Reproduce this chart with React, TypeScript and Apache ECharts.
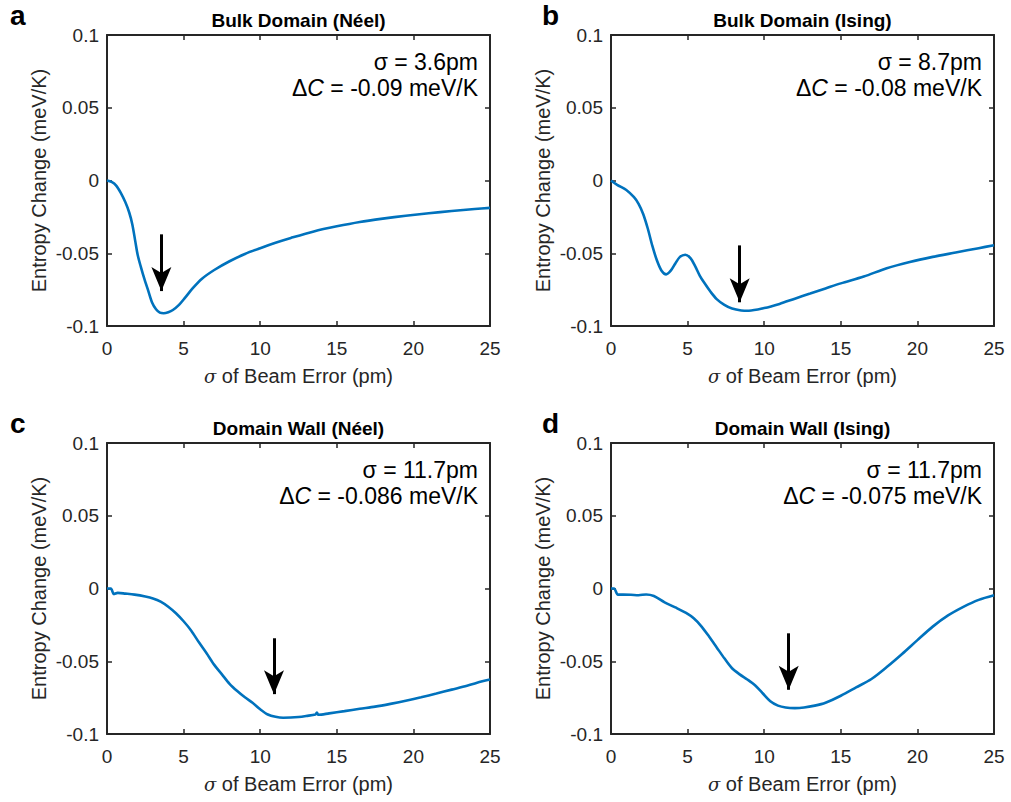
import React, { useEffect, useRef } from "react";
import * as echarts from "echarts";

// ---- data ----
const xTicks = [0, 5, 10, 15, 20, 25];
const yTicks = [-0.1, -0.05, 0, 0.05, 0.1];

const titles = ["Bulk Domain (Néel)", "Bulk Domain (Ising)", "Domain Wall (Néel)", "Domain Wall (Ising)"];
const panelLetters = ["a", "b", "c", "d"];
const sigmaLabels = ["σ = 3.6pm", "σ = 8.7pm", "σ = 11.7pm", "σ = 11.7pm"];
const deltaCLabels = ["-0.09 meV/K", "-0.08 meV/K", "-0.086 meV/K", "-0.075 meV/K"];

const aX = [0, 0.3, 0.6, 0.9, 1.2, 1.45, 1.65, 1.85, 2.0, 2.2, 2.45, 2.7, 2.95, 3.2, 3.45, 3.7, 4.0, 4.3, 4.7, 5.1, 5.6, 6.2, 7.0, 8.0, 9.0, 10, 11, 12, 13.5, 15, 16.5, 18, 19.5, 21, 22.5, 24, 25];
const aY = [0, -0.001, -0.0035, -0.0085, -0.015, -0.022, -0.03, -0.042, -0.051, -0.059, -0.068, -0.076, -0.084, -0.0885, -0.0908, -0.0912, -0.0905, -0.089, -0.0855, -0.0805, -0.074, -0.0675, -0.0615, -0.0555, -0.0505, -0.0465, -0.0428, -0.0395, -0.035, -0.0315, -0.0285, -0.0262, -0.0242, -0.0225, -0.021, -0.0196, -0.0188];

const bX = [0, 0.4, 1.0, 1.5, 1.8, 2.1, 2.4, 2.7, 3.0, 3.3, 3.6, 3.9, 4.2, 4.5, 4.85, 5.2, 5.5, 5.8, 6.1, 6.5, 6.9, 7.4, 7.9, 8.5, 9.0, 10, 11, 12, 13, 14, 15, 16.5, 18, 19.5, 21, 22.5, 24, 25];
const bY = [0, -0.003, -0.0065, -0.0115, -0.016, -0.023, -0.033, -0.045, -0.055, -0.062, -0.0645, -0.062, -0.057, -0.0525, -0.051, -0.0535, -0.059, -0.0655, -0.0705, -0.0765, -0.0815, -0.0855, -0.088, -0.0893, -0.0895, -0.0877, -0.0848, -0.0812, -0.0777, -0.0742, -0.0707, -0.066, -0.0603, -0.056, -0.0525, -0.0495, -0.0465, -0.0445];

const cX = [0, 0.25, 0.45, 0.7, 1.2, 1.8, 2.5, 3.0, 3.5, 4.0, 4.5, 5.0, 5.5, 6.0, 6.5, 7.0, 7.5, 8.0, 8.5, 9.0, 9.5, 10.0, 10.5, 11.0, 11.5, 12.0, 12.5, 13.0, 13.6, 13.7, 13.8, 14.5, 15.5, 16.5, 17.5, 18.5, 19.5, 20.5, 21.5, 22.5, 23.5, 24.5, 25];
const cY = [0, 0, -0.0038, -0.003, -0.0035, -0.0042, -0.0055, -0.0068, -0.009, -0.0125, -0.017, -0.0225, -0.029, -0.037, -0.0445, -0.0525, -0.059, -0.0655, -0.0705, -0.0748, -0.0785, -0.083, -0.0866, -0.0882, -0.0888, -0.0887, -0.0883, -0.0876, -0.0866, -0.0852, -0.0868, -0.0858, -0.0843, -0.0827, -0.0812, -0.0793, -0.0772, -0.0748, -0.0722, -0.0695, -0.0668, -0.0638, -0.0625];

const dX = [0, 0.2, 0.45, 0.8, 1.3, 1.8, 2.3, 2.8, 3.5, 4.2, 4.9, 5.4, 5.9, 6.4, 6.9, 7.4, 7.9, 8.4, 8.9, 9.4, 9.9, 10.4, 10.9, 11.4, 12.0, 12.6, 13.3, 14.0, 15.0, 16.0, 17.0, 18.0, 19.0, 20.0, 21.0, 22.0, 23.0, 24.0, 25];
const dY = [0, 0, -0.0042, -0.0042, -0.0043, -0.0046, -0.0041, -0.0052, -0.0095, -0.013, -0.0168, -0.0205, -0.026, -0.033, -0.0405, -0.048, -0.0548, -0.059, -0.0625, -0.0665, -0.072, -0.0775, -0.0805, -0.0818, -0.0822, -0.0818, -0.0805, -0.0785, -0.0737, -0.068, -0.0622, -0.054, -0.045, -0.0355, -0.0262, -0.0185, -0.0126, -0.0078, -0.0046];

const arrowX = [3.55, 8.4, 10.9, 11.6];
const arrowTop = [-0.037, -0.0446, -0.0342, -0.0308];
const arrowTip = [-0.076, -0.0837, -0.0726, -0.0696];

const seriesX = [aX, bX, cX, dX];
const seriesY = [aY, bY, cY, dY];

// ---- layout ----
const FONT = "'Liberation Sans', Arial, Helvetica, sans-serif";
const AX = "#262626";
const grids = [
  { left: 107, top: 35, width: 383, height: 291 },
  { left: 611, top: 35, width: 383, height: 291 },
  { left: 107, top: 443, width: 383, height: 291 },
  { left: 611, top: 443, width: 383, height: 291 },
];

export default function App() {
  const ref = useRef<HTMLDivElement>(null);
  useEffect(() => {
    if (!ref.current) return;
    const chart = echarts.init(ref.current, null, { renderer: "svg" });
    const xAxes: any[] = [];
    const yAxes: any[] = [];
    const series: any[] = [];
    const graphics: any[] = [];
    grids.forEach((g, i) => {
      const axLine = { show: true, onZero: false, lineStyle: { color: AX, width: 2 } };
      const tick = { show: true, inside: true, length: 5, lineStyle: { color: AX, width: 1.5 } };
      xAxes.push({
        type: "value", gridIndex: i, min: 0, max: 25, interval: 5, position: "bottom",
        axisLine: axLine, axisTick: tick, splitLine: { show: false },
        axisLabel: { color: AX, fontSize: 19, fontFamily: FONT, margin: 13 },
        name: "{i|σ} of Beam Error (pm)", nameLocation: "middle", nameGap: 40,
        nameTextStyle: {
          color: AX, fontSize: 20, fontFamily: FONT,
          rich: { i: { fontStyle: "italic", fontFamily: "'DejaVu Serif', serif", fontSize: 18, color: AX } },
        },
      });
      xAxes.push({
        type: "value", gridIndex: i, min: 0, max: 25, interval: 5, position: "top",
        axisLine: axLine, axisTick: tick, axisLabel: { show: false }, splitLine: { show: false },
      });
      yAxes.push({
        type: "value", gridIndex: i, min: -0.1, max: 0.1, interval: 0.05, position: "left",
        axisLine: axLine, axisTick: tick, splitLine: { show: false },
        axisLabel: { color: AX, fontSize: 19, fontFamily: FONT, margin: 8 },
        name: "Entropy Change (meV/K)", nameLocation: "middle", nameGap: 58,
        nameTextStyle: { color: AX, fontSize: 20, fontFamily: FONT },
      });
      yAxes.push({
        type: "value", gridIndex: i, min: -0.1, max: 0.1, interval: 0.05, position: "right",
        axisLine: axLine, axisTick: tick, axisLabel: { show: false }, splitLine: { show: false },
      });
      const data = seriesX[i].map((x, k) => [x, seriesY[i][k]]);
      series.push({
        type: "line", xAxisIndex: 2 * i, yAxisIndex: 2 * i, data, showSymbol: false, symbol: "none",
        smooth: 0.3, lineStyle: { color: "#0072BD", width: 2.6 }, silent: true,
        markLine: {
          silent: true, symbol: ["none", "arrow"], symbolSize: [15, 24],
          label: { show: false }, emphasis: { disabled: true },
          lineStyle: { color: "#000", width: 3, type: "solid" },
          itemStyle: { color: "#000" },
          data: [[{ coord: [arrowX[i], arrowTop[i]] }, { coord: [arrowX[i], arrowTip[i]] }]],
        },
      });
      const cx = g.left + g.width / 2;
      graphics.push({
        type: "text", x: cx, y: g.top - 15,
        style: { text: titles[i], font: `bold 19px ${FONT}`, fill: "#000", textAlign: "center", textVerticalAlign: "middle", align: "center", verticalAlign: "middle" },
      });
      graphics.push({
        type: "text", x: g.left - (i % 2 === 0 ? 97 : 69), y: g.top - 20,
        style: { text: panelLetters[i], font: `bold 28px ${FONT}`, fill: "#000", textAlign: "left", textVerticalAlign: "middle", align: "left", verticalAlign: "middle" },
      });
      const rx = g.left + g.width - 12;
      graphics.push({
        type: "text", x: rx, y: g.top + 27,
        style: { text: sigmaLabels[i], font: `23px ${FONT}`, fill: "#000", textAlign: "right", textVerticalAlign: "middle", align: "right", verticalAlign: "middle" },
      });
      graphics.push({
        type: "text", x: rx, y: g.top + 53,
        style: {
          text: `{n|Δ}{i|C}{n| = ${deltaCLabels[i]}}`, fill: "#000", textAlign: "right", textVerticalAlign: "middle", align: "right", verticalAlign: "middle",
          font: `23px ${FONT}`,
          rich: {
            n: { fontSize: 23, fontFamily: FONT, fill: "#000" },
            i: { fontSize: 23, fontFamily: FONT, fontStyle: "italic", fill: "#000" },
          },
        },
      });
    });
    chart.setOption({
      animation: false,
      backgroundColor: "#fff",
      grid: grids.map((g) => ({ ...g, containLabel: false })),
      xAxis: xAxes,
      yAxis: yAxes,
      series,
      graphic: graphics,
    });
    return () => chart.dispose();
  }, []);
  return <div ref={ref} style={{ position: "fixed", left: 0, top: 0, width: 1011, height: 802 }} />;
}
